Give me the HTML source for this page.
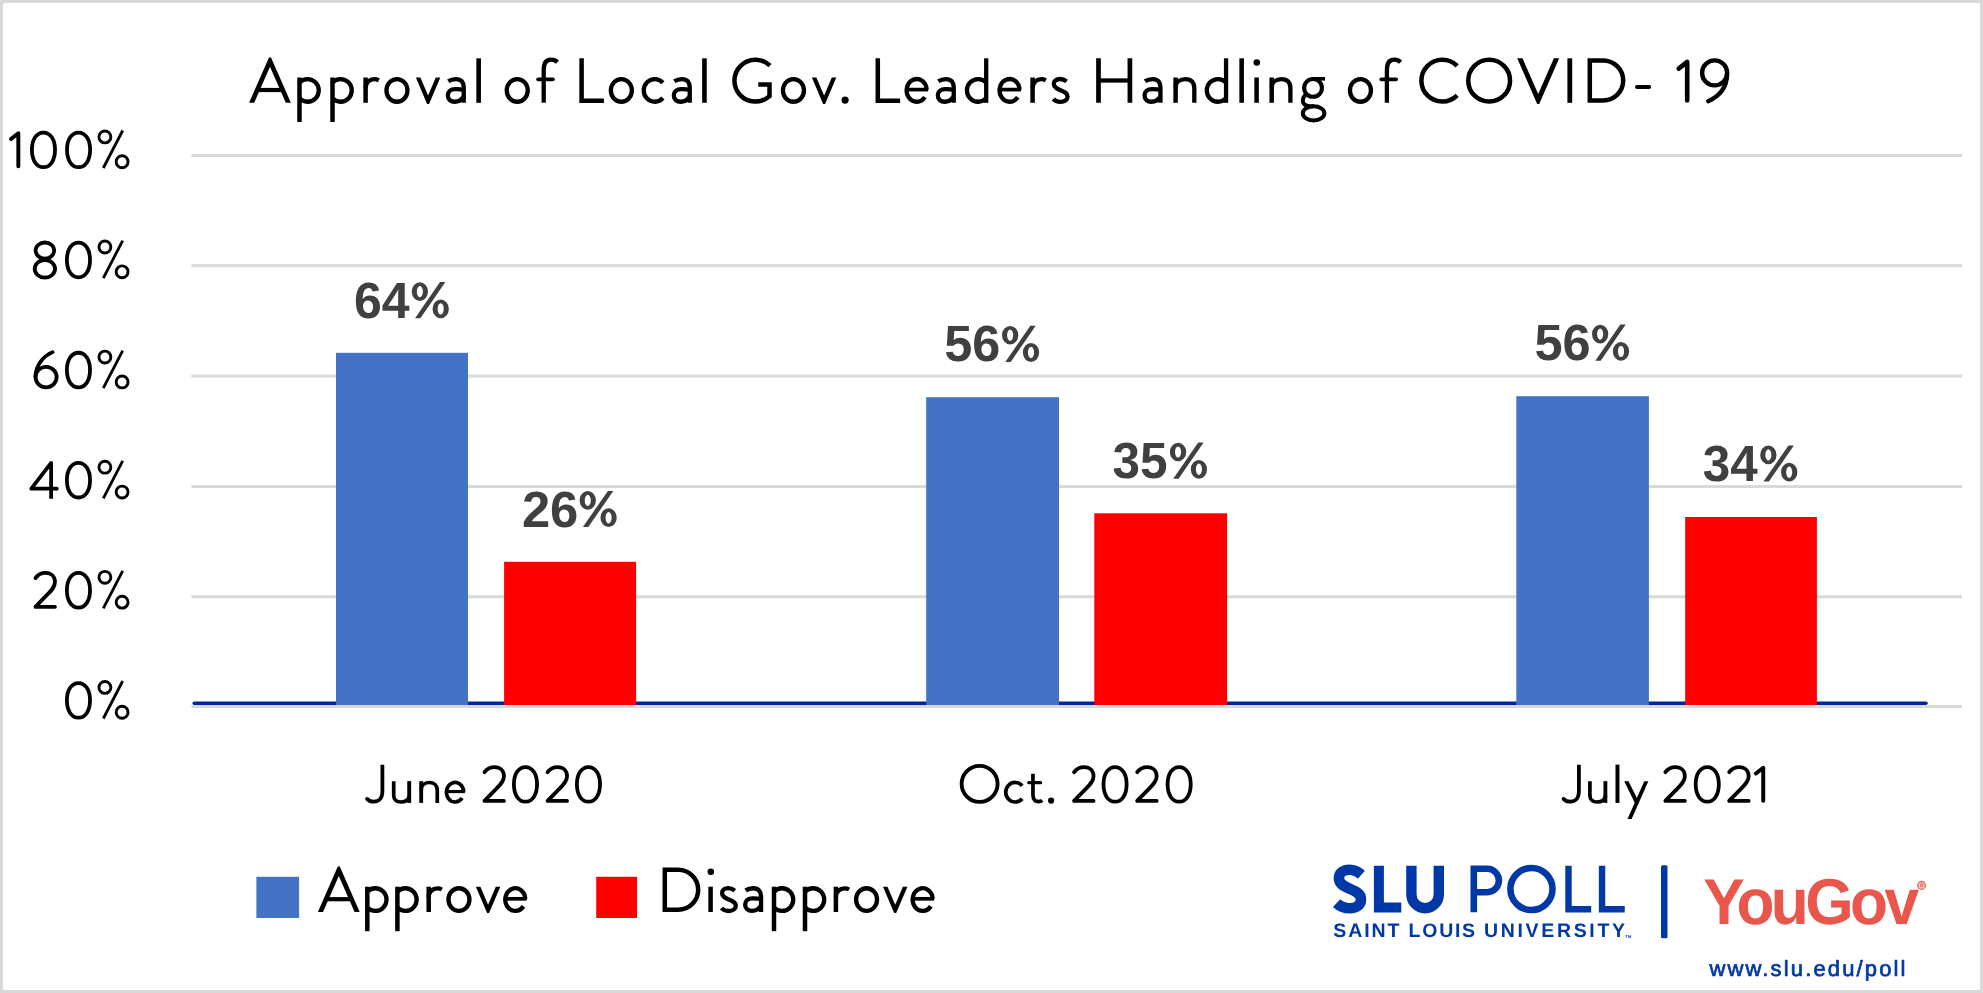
<!DOCTYPE html>
<html lang="en">
<head>
<meta charset="utf-8">
<title>Approval of Local Gov. Leaders Handling of COVID-19</title>
<style>
  html, body { margin: 0; padding: 0; background: #ffffff; }
  body { width: 1983px; height: 993px; overflow: hidden; font-family: "Liberation Sans", sans-serif; }
  svg { display: block; will-change: transform; }
  text { font-family: "Liberation Sans", sans-serif; text-rendering: geometricPrecision; }
  .dl { font-size: 51px; font-weight: bold; fill: #404040; }
</style>
</head>
<body>
<svg width="1983" height="993" viewBox="0 0 1983 993" role="img" aria-label="Approval of Local Gov. Leaders Handling of COVID-19">
  <defs>
    <g id="pct" fill="none" stroke="#000000">
      <circle cx="104.9" cy="-31.5" r="5.95" stroke-width="2.9"/>
      <circle cx="122.1" cy="-6.65" r="5.95" stroke-width="2.9"/>
      <line x1="122.7" y1="-37.9" x2="103.3" y2="-0.4" stroke-width="2.8"/>
    </g>
    <g id="g41"><path d="M0 0 L19.9 -45.4 L21.9 -45.4 L41.8 0 L36.7 0 L20.9 -36.05 L5.1 0 Z" fill="#000"/><path d="M9 -14.9 H32.8 V-10.7 H9 Z" fill="#000"/></g>
    <g id="g56"><path d="M0 -44.5 L5.3 -44.5 L21 -8.7 L36.7 -44.5 L42 -44.5 L22 1.1 L20 1.1 Z" fill="#000"/></g>
    <g id="g48"><path d="M2.4 -44.5 V0 M33.8 -44.5 V0" fill="none" stroke="#000" stroke-width="4.699999999999999" stroke-linecap="butt" stroke-linejoin="round"/><path d="M2.4 -22.3 H33.8" fill="none" stroke="#000" stroke-width="4.3" stroke-linecap="butt" stroke-linejoin="round"/></g>
    <g id="g4c"><path d="M2.4 -44.5 V-2.0 H24.7" fill="none" stroke="#000" stroke-width="4.5" stroke-linecap="butt" stroke-linejoin="miter"/></g>
    <g id="g49"><path d="M2.5 -44.5 V0" fill="none" stroke="#000" stroke-width="4.8" stroke-linecap="butt" stroke-linejoin="round"/></g>
    <g id="g44"><path d="M2.4 -2.25 V-42.25 H15.8 A20 20 0 0 1 15.8 -2.25 Z" fill="none" stroke="#000" stroke-width="4.5" stroke-linecap="butt" stroke-linejoin="miter"/></g>
    <g id="g43"><path d="M38.06 -36.96 A20.95 20.95 0 1 0 38.06 -7.34" fill="none" stroke="#000" stroke-width="4.5" stroke-linecap="butt" stroke-linejoin="round"/></g>
    <g id="g47"><path d="M37.85 -37.22 A20.95 20.95 0 1 0 37.4 -6.65 V-18.2 H26.2" fill="none" stroke="#000" stroke-width="4.5" stroke-linecap="butt" stroke-linejoin="miter"/></g>
    <g id="g4f"><ellipse cx="23.15" cy="-22.15" rx="20.9" ry="20.95" fill="none" stroke="#000" stroke-width="4.5"/></g>
    <g id="g4a"><path d="M20.35 -44.5 V-13.2 C20.35 -5.1 15.7 -1.4 10.5 -1.4 C6.5 -1.4 3.8 -3.0 2.4 -4.8" fill="none" stroke="#000" stroke-width="4.4" stroke-linecap="butt" stroke-linejoin="round"/><circle cx="2.4" cy="-4.8" r="2.1" fill="#000"/></g>
    <g id="g61"><path d="M2.6 -21.6 C5 -23.2 7.5 -23.75 10.3 -23.75 C15.5 -23.75 18.05 -20.5 18.05 -15.5 V0" fill="none" stroke="#000" stroke-width="4.3" stroke-linecap="butt" stroke-linejoin="round"/><path d="M18.05 -13.0 C14.5 -13.8 11.5 -13.65 9.5 -13.65 C5 -13.65 2.15 -11 2.15 -7.3 C2.15 -3.5 5 -1.05 9 -1.05 C13 -1.05 16 -3 18.05 -6.3" fill="none" stroke="#000" stroke-width="4.3" stroke-linecap="butt" stroke-linejoin="round"/></g>
    <g id="g63"><path d="M21.3 -20.0 A11 11.35 0 1 0 21.3 -4.8" fill="none" stroke="#000" stroke-width="4.3" stroke-linecap="butt" stroke-linejoin="round"/></g>
    <g id="g64"><path d="M21.4 -44.5 V0" fill="none" stroke="#000" stroke-width="4.3" stroke-linecap="butt" stroke-linejoin="round"/><path d="M21.4 -20.29 A11.2 11.35 0 1 0 21.4 -4.51" fill="none" stroke="#000" stroke-width="4.3" stroke-linecap="butt" stroke-linejoin="round"/></g>
    <g id="g65"><path d="M22.22 -13.2 A10.05 11.35 0 1 0 20.33 -5.73" fill="none" stroke="#000" stroke-width="4.3" stroke-linecap="butt" stroke-linejoin="round"/><path d="M2.6 -13.2 H23.6" fill="none" stroke="#000" stroke-width="3.7" stroke-linecap="butt" stroke-linejoin="round"/></g>
    <g id="g66"><path d="M21.2 -40.6 C19.5 -42.4 17.3 -43.25 15 -43.25 C10 -43.25 7.5 -39.5 7.5 -33 V0" fill="none" stroke="#000" stroke-width="4.3" stroke-linecap="butt" stroke-linejoin="round"/><path d="M1.9 -23.5 H16.7" fill="none" stroke="#000" stroke-width="3.8" stroke-linecap="round" stroke-linejoin="round"/></g>
    <g id="g67"><ellipse cx="12.4" cy="-14.9" rx="8.9" ry="8.9" fill="none" stroke="#000" stroke-width="4.1"/><path d="M12.8 -24.0 H24.35" fill="none" stroke="#000" stroke-width="3.6" stroke-linecap="butt" stroke-linejoin="round"/><path d="M5.5 -8.6 C3 -6.5 2.15 -4.5 2.15 -2.3 C2.15 1.2 5 3.4 9 3.4 L13 3.4" fill="none" stroke="#000" stroke-width="4.0" stroke-linecap="butt" stroke-linejoin="round"/><ellipse cx="12.95" cy="10.55" rx="10.8" ry="7.15" fill="none" stroke="#000" stroke-width="4.0"/></g>
    <g id="g69"><path d="M3.1 -25.3 V0" fill="none" stroke="#000" stroke-width="4.5" stroke-linecap="butt" stroke-linejoin="round"/><circle cx="3.3" cy="-40.3" r="3.3" fill="#000"/></g>
    <g id="g6c"><path d="M2.35 -44.5 V0" fill="none" stroke="#000" stroke-width="4.6" stroke-linecap="butt" stroke-linejoin="round"/></g>
    <g id="g6e"><path d="M2.3 -25.3 V0" fill="none" stroke="#000" stroke-width="4.5" stroke-linecap="butt" stroke-linejoin="round"/><path d="M2.3 -15.2 C2.3 -20.8 7 -23.75 12.2 -23.75 C18 -23.75 21 -20.1 21 -14.6 V0" fill="none" stroke="#000" stroke-width="4.3" stroke-linecap="butt" stroke-linejoin="round"/></g>
    <g id="g6f"><ellipse cx="12.65" cy="-12.4" rx="10.5" ry="11.35" fill="none" stroke="#000" stroke-width="4.3"/></g>
    <g id="g70"><path d="M2.2 -25.3 V19.2" fill="none" stroke="#000" stroke-width="4.5" stroke-linecap="butt" stroke-linejoin="round"/><path d="M2.2 -20.29 A11.2 11.35 0 1 1 2.2 -4.51" fill="none" stroke="#000" stroke-width="4.3" stroke-linecap="butt" stroke-linejoin="round"/></g>
    <g id="g72"><path d="M2.4 -25.3 V0" fill="none" stroke="#000" stroke-width="4.5" stroke-linecap="butt" stroke-linejoin="round"/><path d="M2.4 -14.5 C2.4 -20.5 6.5 -23.7 11 -23.7 C12.7 -23.7 14.2 -23.3 15.6 -22.5" fill="none" stroke="#000" stroke-width="4.3" stroke-linecap="butt" stroke-linejoin="round"/></g>
    <g id="g73"><path d="M14.9 -21.4 C12.3 -23.5 9.8 -23.8 8.3 -23.8 C4.8 -23.8 2.15 -22 2.15 -19 C2.15 -15.3 5.3 -14 8.8 -12.6 C12.3 -11.2 15.85 -9.8 15.85 -6.3 C15.85 -3 12.8 -1.0 8.8 -1.0 C5.8 -1.0 3.3 -2.0 1.7 -4.0" fill="none" stroke="#000" stroke-width="4.3" stroke-linecap="butt" stroke-linejoin="round"/></g>
    <g id="g74"><path d="M6.7 -33.8 V-9.1 C6.7 -2.8 10.2 -1.4 13.1 -1.4 C14.8 -1.4 16.5 -2.0 17.5 -2.9" fill="none" stroke="#000" stroke-width="4.3" stroke-linecap="butt" stroke-linejoin="round"/><path d="M1.9 -23.5 H15.6" fill="none" stroke="#000" stroke-width="3.8" stroke-linecap="round" stroke-linejoin="round"/></g>
    <g id="g75"><path d="M2.1 -25.3 V-9 C2.1 -3.5 5.5 -1.05 10.5 -1.05 C15.5 -1.05 20.1 -3.3 20.1 -8.8" fill="none" stroke="#000" stroke-width="4.3" stroke-linecap="butt" stroke-linejoin="round"/><path d="M20.1 -25.3 V0" fill="none" stroke="#000" stroke-width="4.5" stroke-linecap="butt" stroke-linejoin="round"/></g>
    <g id="g76"><path d="M0 -25.3 L4.5 -25.3 L12.2 -7.2 L19.9 -25.3 L24.4 -25.3 L13.2 1.1 L11.2 1.1 Z" fill="#000"/></g>
    <g id="g79"><path d="M23.3 -25.3 L28.05 -25.3 L8.6 18.7 L3.75 18.7 Z" fill="#000"/><path d="M0 -25.3 L5.05 -25.3 L15.5 -4 L13 1.5 Z" fill="#000"/></g>
    <g id="g2e"><circle cx="3.6" cy="-2.7" r="3.6" fill="#000"/></g>
    <g id="g2d"><path d="M2 -15.7 H14.1" fill="none" stroke="#000" stroke-width="4.0" stroke-linecap="round" stroke-linejoin="round"/></g>
    <g id="g30"><path d="M2.200000000000001 -21.55 C2.200000000000001 -33.64 7.580000000000002 -41.7 15.65 -41.7 C23.72 -41.7 29.1 -33.64 29.1 -21.55 C29.1 -9.460000000000003 23.72 -1.4000000000000021 15.65 -1.4000000000000021 C7.580000000000002 -1.4000000000000021 2.200000000000001 -9.460000000000003 2.200000000000001 -21.55 Z" fill="none" stroke="#000" stroke-width="4.4" stroke-linecap="butt" stroke-linejoin="round"/></g>
    <g id="g31"><path d="M2.0 -34.2 L10.5 -40.9 V-2.4" fill="none" stroke="#000" stroke-width="4.6" stroke-linecap="round" stroke-linejoin="round"/></g>
    <g id="g32"><path d="M2.65 -35.7 C5.55 -39.8 9.6 -41.7 14.45 -41.7 C20.8 -41.7 25.3 -37.5 25.3 -31.1 C25.3 -25.3 21.2 -21.3 16 -16.1 L2.6 -2.3 H25.3" fill="none" stroke="#000" stroke-width="4.4" stroke-linecap="round" stroke-linejoin="round"/></g>
    <g id="g34"><path d="M25.6 0 V-41.6 L2.6 -11.7 H32.2" fill="none" stroke="#000" stroke-width="4.4" stroke-linecap="butt" stroke-linejoin="round"/><circle cx="32.2" cy="-11.7" r="2.2" fill="#000"/></g>
    <g id="g36"><path d="M22.1 -42.4 C12 -38 2.2 -28 2.2 -13.35" fill="none" stroke="#000" stroke-width="4.4" stroke-linecap="round" stroke-linejoin="round"/><ellipse cx="14.5" cy="-13.35" rx="12.3" ry="11.85" fill="none" stroke="#000" stroke-width="4.4"/></g>
    <g id="g38"><ellipse cx="14.15" cy="-32.5" rx="10.8" ry="9.35" fill="none" stroke="#000" stroke-width="4.4"/><ellipse cx="14.15" cy="-11.25" rx="11.85" ry="10.25" fill="none" stroke="#000" stroke-width="4.4"/></g>
    <g id="g39"><ellipse cx="14.7" cy="-29.9" rx="12.5" ry="12.5" fill="none" stroke="#000" stroke-width="4.4"/><path d="M27.2 -28.3 Q26.7 -9.8 8.3 -1.6" fill="none" stroke="#000" stroke-width="4.4" stroke-linecap="round" stroke-linejoin="round"/></g>
    <g id="bpct" fill="#404040"><path fill-rule="evenodd" d="M0.0 -26.2 A8.15 9.3 0 1 0 16.3 -26.2 A8.15 9.3 0 1 0 0.0 -26.2 Z M5.1000000000000005 -26.2 A3.05 5.6 0 1 0 11.2 -26.2 A3.05 5.6 0 1 0 5.1000000000000005 -26.2 Z"/><path fill-rule="evenodd" d="M20.85 -8.9 A8.15 9.4 0 1 0 37.15 -8.9 A8.15 9.4 0 1 0 20.85 -8.9 Z M25.95 -8.9 A3.05 5.7 0 1 0 32.05 -8.9 A3.05 5.7 0 1 0 25.95 -8.9 Z"/><path d="M28.3 -35.7 L33.7 -35.7 L8.7 0.5 L3.3 0.5 Z"/></g>
  </defs>

  <!-- frame -->
  <rect x="0" y="0" width="1983" height="993" fill="#d9d9d9"/>
  <rect x="3" y="3" width="1977" height="987" fill="#ffffff"/>

  <!-- title: Approval of Local Gov. Leaders Handling of COVID- 19 -->
  <g id="title">
    <use href="#g41" transform="translate(249.10 102.80)"/>
    <use href="#g70" transform="translate(297.30 102.80)"/>
    <use href="#g70" transform="translate(330.30 102.80)"/>
    <use href="#g72" transform="translate(363.20 102.80)"/>
    <use href="#g6f" transform="translate(384.30 102.80)"/>
    <use href="#g76" transform="translate(415.90 102.80)"/>
    <use href="#g61" transform="translate(445.70 102.80)"/>
    <use href="#g6c" transform="translate(476.30 102.80)"/>
    <use href="#g6f" transform="translate(504.60 102.80)"/>
    <use href="#g66" transform="translate(536.20 102.80)"/>
    <use href="#g4c" transform="translate(579.20 102.80)"/>
    <use href="#g6f" transform="translate(608.70 102.80)"/>
    <use href="#g63" transform="translate(641.60 102.80)"/>
    <use href="#g61" transform="translate(671.70 102.80)"/>
    <use href="#g6c" transform="translate(702.10 102.80)"/>
    <use href="#g47" transform="translate(732.10 102.80)"/>
    <use href="#g6f" transform="translate(780.80 102.80)"/>
    <use href="#g76" transform="translate(811.90 102.80)"/>
    <use href="#g2e" transform="translate(841.50 102.80)"/>
    <use href="#g4c" transform="translate(875.40 102.80)"/>
    <use href="#g65" transform="translate(904.50 102.80)"/>
    <use href="#g61" transform="translate(935.70 102.80)"/>
    <use href="#g64" transform="translate(964.80 102.80)"/>
    <use href="#g65" transform="translate(997.40 102.80)"/>
    <use href="#g72" transform="translate(1030.20 102.80)"/>
    <use href="#g73" transform="translate(1051.70 102.80)"/>
    <use href="#g48" transform="translate(1096.10 102.80)"/>
    <use href="#g61" transform="translate(1142.40 102.80)"/>
    <use href="#g6e" transform="translate(1173.30 102.80)"/>
    <use href="#g64" transform="translate(1204.65 102.80)"/>
    <use href="#g6c" transform="translate(1239.30 102.80)"/>
    <use href="#g69" transform="translate(1253.50 102.80)"/>
    <use href="#g6e" transform="translate(1269.40 102.80)"/>
    <use href="#g67" transform="translate(1300.65 102.80)"/>
    <use href="#g6f" transform="translate(1347.80 102.80)"/>
    <use href="#g66" transform="translate(1379.40 102.80)"/>
    <use href="#g43" transform="translate(1419.10 102.80)"/>
    <use href="#g4f" transform="translate(1466.00 102.80)"/>
    <use href="#g56" transform="translate(1517.20 102.80)"/>
    <use href="#g49" transform="translate(1567.30 102.80)"/>
    <use href="#g44" transform="translate(1587.40 102.80)"/>
    <use href="#g2d" transform="translate(1635.00 102.80)"/>
    <use href="#g31" transform="translate(1676.70 102.80)"/>
    <use href="#g39" transform="translate(1699.90 102.80)"/>
  </g>

  <!-- gridlines -->
  <g fill="#d9d9d9">
    <rect x="191.4" y="154" width="1770.6" height="3"/>
    <rect x="191.4" y="264.2" width="1770.6" height="3"/>
    <rect x="191.4" y="374.6" width="1770.6" height="3"/>
    <rect x="191.4" y="485" width="1770.6" height="3"/>
    <rect x="191.4" y="595.3" width="1770.6" height="3"/>
    <rect x="191.4" y="705" width="1770.6" height="3"/>
  </g>

  <!-- y axis labels: 100% 80% 60% 40% 20% 0% -->
  <g id="yaxis">
    <use href="#g31" transform="translate(9.30 168.40) scale(0.86)"/>
    <use href="#g30" transform="translate(30.00 168.40) scale(0.86)"/>
    <use href="#g30" transform="translate(65.10 168.40) scale(0.86)"/>
    <use href="#pct" y="168.4"/>
    <use href="#g38" transform="translate(32.70 278.50) scale(0.86)"/>
    <use href="#g30" transform="translate(65.00 278.50) scale(0.86)"/>
    <use href="#pct" y="278.5"/>
    <use href="#g36" transform="translate(33.60 388.60) scale(0.86)"/>
    <use href="#g30" transform="translate(65.00 388.60) scale(0.86)"/>
    <use href="#pct" y="388.6"/>
    <use href="#g34" transform="translate(29.10 498.70) scale(0.86)"/>
    <use href="#g30" transform="translate(65.00 498.70) scale(0.86)"/>
    <use href="#pct" y="498.7"/>
    <use href="#g32" transform="translate(33.20 608.80) scale(0.86)"/>
    <use href="#g30" transform="translate(65.00 608.80) scale(0.86)"/>
    <use href="#pct" y="608.8"/>
    <use href="#g30" transform="translate(65.00 718.90) scale(0.86)"/>
    <use href="#pct" y="718.9"/>
  </g>

  <!-- blue axis line -->
  <line x1="194.2" y1="703.2" x2="1926" y2="703.2" stroke="#00269f" stroke-width="3.4" stroke-linecap="round"/>

  <!-- bars -->
  <g fill="#4472c4">
    <rect x="336" y="352.8" width="132" height="352.2"/>
    <rect x="926.2" y="397.2" width="132.8" height="307.8"/>
    <rect x="1516.3" y="396.2" width="132.6" height="308.8"/>
  </g>
  <g fill="#ff0000">
    <rect x="504.1" y="561.8" width="132" height="143.2"/>
    <rect x="1094.3" y="513.3" width="132.8" height="191.7"/>
    <rect x="1685.2" y="517" width="131.7" height="188"/>
  </g>

  <!-- data labels -->
  <g class="dl">
    <text x="354.04" y="317.8" textLength="55.68" lengthAdjust="spacingAndGlyphs">64</text>
    <use href="#bpct" transform="translate(411.70 317.8)"/>
    <text x="521.91" y="526.6" textLength="56.41" lengthAdjust="spacingAndGlyphs">26</text>
    <use href="#bpct" transform="translate(579.60 526.6)"/>
    <text x="944.32" y="361.4" textLength="56.09" lengthAdjust="spacingAndGlyphs">56</text>
    <use href="#bpct" transform="translate(1002.00 361.4)"/>
    <text x="1112.44" y="478.2" textLength="55.05" lengthAdjust="spacingAndGlyphs">35</text>
    <use href="#bpct" transform="translate(1169.90 478.2)"/>
    <text x="1534.52" y="360.3" textLength="56.19" lengthAdjust="spacingAndGlyphs">56</text>
    <use href="#bpct" transform="translate(1592.00 360.3)"/>
    <text x="1702.75" y="481.1" textLength="54.98" lengthAdjust="spacingAndGlyphs">34</text>
    <use href="#bpct" transform="translate(1760.20 481.1)"/>
  </g>

  <!-- x axis labels: June 2020 / Oct. 2020 / July 2021 -->
  <g id="xaxis">
    <use href="#g4a" transform="translate(364.90 802.90) scale(0.86)"/>
    <use href="#g75" transform="translate(391.90 802.90) scale(0.86)"/>
    <use href="#g6e" transform="translate(419.20 802.90) scale(0.86)"/>
    <use href="#g65" transform="translate(444.60 802.90) scale(0.86)"/>
    <use href="#g32" transform="translate(482.20 802.90) scale(0.86)"/>
    <use href="#g30" transform="translate(512.00 802.90) scale(0.86)"/>
    <use href="#g32" transform="translate(545.30 802.90) scale(0.86)"/>
    <use href="#g30" transform="translate(575.00 802.90) scale(0.86)"/>
    <use href="#g4f" transform="translate(959.70 802.90) scale(0.86)"/>
    <use href="#g63" transform="translate(1003.90 802.90) scale(0.86)"/>
    <use href="#g74" transform="translate(1027.20 802.90) scale(0.86)"/>
    <use href="#g2e" transform="translate(1048.00 802.90) scale(0.86)"/>
    <use href="#g32" transform="translate(1071.80 802.90) scale(0.86)"/>
    <use href="#g30" transform="translate(1101.60 802.90) scale(0.86)"/>
    <use href="#g32" transform="translate(1134.90 802.90) scale(0.86)"/>
    <use href="#g30" transform="translate(1165.70 802.90) scale(0.86)"/>
    <use href="#g4a" transform="translate(1561.40 802.90) scale(0.86)"/>
    <use href="#g75" transform="translate(1588.10 802.90) scale(0.86)"/>
    <use href="#g6c" transform="translate(1615.45 802.90) scale(0.86)"/>
    <use href="#g79" transform="translate(1624.25 802.90) scale(0.86)"/>
    <use href="#g32" transform="translate(1663.10 802.90) scale(0.86)"/>
    <use href="#g30" transform="translate(1693.80 802.90) scale(0.86)"/>
    <use href="#g32" transform="translate(1726.90 802.90) scale(0.86)"/>
    <use href="#g31" transform="translate(1754.20 802.90) scale(0.86)"/>
  </g>

  <!-- legend: Approve / Disapprove -->
  <rect x="256.4" y="876.8" width="42.7" height="41.2" fill="#4472c4"/>
  <rect x="596.2" y="876.8" width="40.8" height="41.2" fill="#ff0000"/>
  <g id="legend">
    <use href="#g41" transform="translate(317.90 912.00)"/>
    <use href="#g70" transform="translate(365.10 912.00)"/>
    <use href="#g70" transform="translate(395.20 912.00)"/>
    <use href="#g72" transform="translate(426.30 912.00)"/>
    <use href="#g6f" transform="translate(446.30 912.00)"/>
    <use href="#g76" transform="translate(475.90 912.00)"/>
    <use href="#g65" transform="translate(503.10 912.00)"/>
    <use href="#g44" transform="translate(662.40 912.00)"/>
    <use href="#g69" transform="translate(707.50 912.00)"/>
    <use href="#g73" transform="translate(719.90 912.00)"/>
    <use href="#g61" transform="translate(743.00 912.00)"/>
    <use href="#g70" transform="translate(771.80 912.00)"/>
    <use href="#g70" transform="translate(802.80 912.00)"/>
    <use href="#g72" transform="translate(833.50 912.00)"/>
    <use href="#g6f" transform="translate(853.90 912.00)"/>
    <use href="#g76" transform="translate(883.00 912.00)"/>
    <use href="#g65" transform="translate(910.50 912.00)"/>
  </g>

  <!-- SLU POLL | YouGov logo -->
  <g fill="#0038a8" stroke="#0038a8" stroke-linejoin="round">
    <g fill="none" stroke-linejoin="miter" stroke-linecap="butt">
      <path stroke-width="10.6" d="M1361.4 874.8 C1357.6 871.4 1353.6 869.8 1349.5 869.8 C1343.4 869.8 1338.9 873 1338.9 878.3 C1338.9 884 1344 886.3 1350 888.8 C1356 891.3 1361 893.7 1361 899.5 C1361 905 1356.5 908.2 1350 908.2 C1344.4 908.2 1339.8 906.2 1336.6 903.1"/>
      <path stroke-width="10" d="M1378.9 865.8 V907.4 H1401.3"/>
      <path stroke-width="10.4" d="M1411.4 865.8 V894.5 A13.7 13.7 0 0 0 1438.8 894.5 V865.8"/>
      <path stroke-width="6.6" d="M1473.8 912.3 V868.8 H1487.2 A11.7 11.7 0 0 1 1487.2 892.2 H1473.8"/>
      <circle stroke-width="6.6" cx="1531.45" cy="889" r="21.05"/>
      <path stroke-width="6.4" d="M1568.5 865.7 V909.2 H1591.2"/>
      <path stroke-width="6.4" d="M1602.05 865.7 V909.2 H1624.75"/>
    </g>
    <g font-size="19.5" font-weight="bold" stroke="none">
      <text x="1333.3" y="937.4" textLength="66" lengthAdjust="spacing">SAINT</text>
      <text x="1408.6" y="937.4" textLength="66.5" lengthAdjust="spacing">LOUIS</text>
      <text x="1484" y="937.4" textLength="141" lengthAdjust="spacing">UNIVERSITY</text>
      <text x="1625.5" y="937.6" font-size="4" font-weight="bold">TM</text>
    </g>
    <rect x="1661" y="865.2" width="6.5" height="73" rx="1.5" stroke="none"/>
    <text x="1709.5" y="975.6" font-size="22" stroke-width="0.7" textLength="196" lengthAdjust="spacing">www.slu.edu/poll</text>
  </g>
  <g fill="#e9564b">
    <text transform="translate(1703.2 923.9) scale(0.96 1)" font-size="64.8" font-weight="bold" letter-spacing="-3.75">YouGov</text>
    <circle cx="1921.6" cy="885.4" r="3.9" fill="#f8c4bf" stroke="#ea6a60" stroke-width="1.3"/>
    <text x="1919.9" y="887.3" font-size="5" font-weight="bold" fill="#e9564b">R</text>
  </g>
</svg>
</body>
</html>
